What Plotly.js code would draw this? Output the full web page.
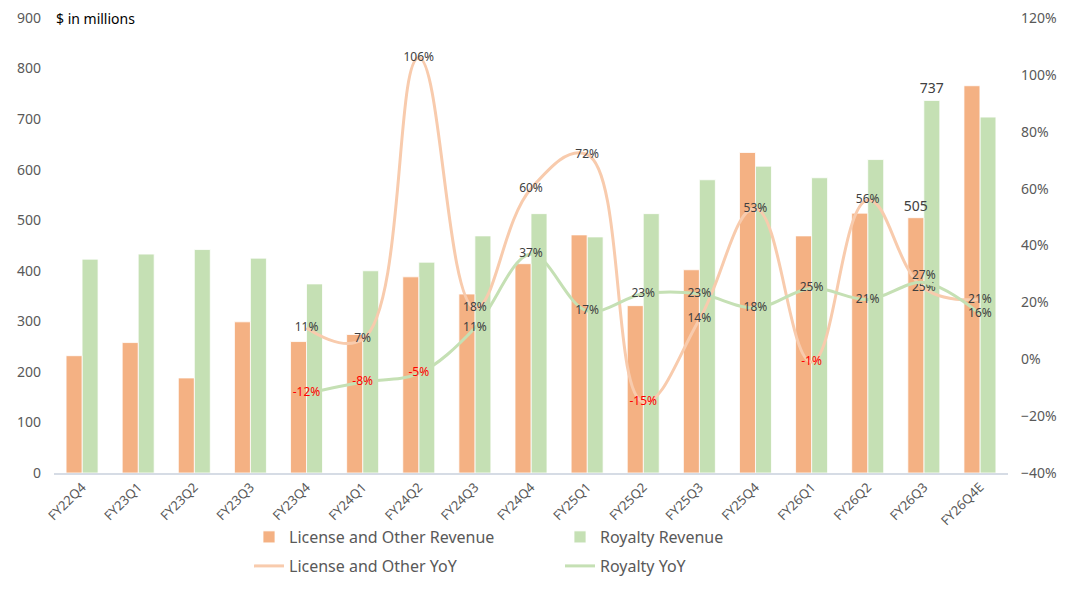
<!DOCTYPE html>
<html>
<head>
<meta charset="utf-8">
<script src="https://cdn.plot.ly/plotly-3.0.1.min.js"></script>
<style>html,body{margin:0;padding:0;background:#fff;}#chart{width:1080px;height:593px;}</style>
</head>
<body>
<div id="chart"></div>
<script>
const quarters = ["FY22Q4","FY23Q1","FY23Q2","FY23Q3","FY23Q4","FY24Q1","FY24Q2","FY24Q3","FY24Q4","FY25Q1","FY25Q2","FY25Q3","FY25Q4","FY26Q1","FY26Q2","FY26Q3","FY26Q4E"];
const licenseRevenue = [232, 258, 188, 299, 260, 274, 388, 354, 414, 471, 331, 402, 634, 469, 514, 505, 766];
const royaltyRevenue = [423, 433, 442, 425, 374, 400, 417, 469, 513, 467, 513, 580, 607, 584, 620, 737, 704];
const licenseYoY = [null, null, null, null, 11, 7, 106, 18, 60, 72, -15, 14, 53, -1, 56, 25, 21];
const royaltyYoY = [null, null, null, null, -12, -8, -5, 11, 37, 17, 23, 23, 18, 25, 21, 27, 16];
const licenseBarLabels = ["","","","","","","","","","","","","","","","505",""];
const royaltyBarLabels = ["","","","","","","","","","","","","","","","737",""];

const FONT = "'Noto Sans', 'Noto Sans CJK SC', sans-serif";
const pctText = a => a.map(v => v === null ? "" : v + "%");
const pctColor = a => a.map(v => (v !== null && v < 0) ? "#FF0000" : "#404040");
const BW = 0.285;
const royaltyPos = quarters.map((q, i) => i === 15 ? "top center" : "middle center");

// royalty bars drawn first so the license bar labels sit on top of them
const traces = [
  {type:"bar", name:"Royalty Revenue", x:quarters, y:royaltyRevenue, width:BW, offset:0,
   marker:{color:"#C5E0B4", line:{color:"#FFFFFF", width:0.8}},
   text:royaltyBarLabels, textposition:"outside", cliponaxis:false, constraintext:"none",
   textfont:{family:FONT, size:14, color:"#404040"}, legend:"legend", legendrank:2, hoverinfo:"x+y"},
  {type:"bar", name:"License and Other Revenue", x:quarters, y:licenseRevenue, width:BW, offset:-BW,
   marker:{color:"#F4B183", line:{color:"#FFFFFF", width:0.8}},
   text:licenseBarLabels, textposition:"outside", cliponaxis:false, constraintext:"none",
   textfont:{family:FONT, size:14, color:"#404040"}, legend:"legend", legendrank:1, hoverinfo:"x+y"},
  {type:"scatter", mode:"lines+text", name:"License and Other YoY", x:quarters, y:licenseYoY,
   yaxis:"y2", line:{color:"#F8CBAD", width:3, shape:"spline", smoothing:1.2},
   text:pctText(licenseYoY), textposition:"middle center", cliponaxis:false,
   textfont:{family:FONT, size:12, color:pctColor(licenseYoY)}, legend:"legend2", legendrank:1},
  {type:"scatter", mode:"lines+text", name:"Royalty YoY", x:quarters, y:royaltyYoY,
   yaxis:"y2", line:{color:"#C5E0B4", width:3, shape:"spline", smoothing:1.0},
   text:pctText(royaltyYoY), textposition:royaltyPos, cliponaxis:false,
   textfont:{family:FONT, size:12, color:pctColor(royaltyYoY)}, legend:"legend2", legendrank:2}
];

const layout = {
  width:1080, height:593,
  margin:{l:54, r:72, t:18, b:120},
  paper_bgcolor:"#FFFFFF", plot_bgcolor:"#FFFFFF",
  font:{family:FONT, color:"#595959"},
  barmode:"overlay",
  xaxis:{type:"category", range:[-0.5, quarters.length-0.5], autorange:false, automargin:false,
    tickangle:-45, tickfont:{size:13, color:"#595959"},
    showline:true, linecolor:"#D6DCE5", linewidth:1.5, showgrid:false, zeroline:false, ticks:""},
  yaxis:{range:[0,900], dtick:100, showgrid:false, zeroline:false, showline:false, automargin:false,
    tickfont:{size:14, color:"#595959"}, ticks:"", ticklabelstandoff:12},
  yaxis2:{overlaying:"y", side:"right", range:[-40,120], dtick:20, ticksuffix:"%", automargin:false,
    showgrid:false, zeroline:false, showline:false,
    tickfont:{size:14, color:"#595959"}, ticks:"", ticklabelstandoff:12},
  legend:{orientation:"h", xref:"container", yref:"container", x:249/1080, y:1-537/593,
    xanchor:"left", yanchor:"middle", entrywidthmode:"pixels", entrywidth:266,
    font:{size:16, color:"#595959", family:FONT}, bgcolor:"rgba(0,0,0,0)", traceorder:"normal"},
  legend2:{orientation:"h", xref:"container", yref:"container", x:249/1080, y:1-566/593,
    xanchor:"left", yanchor:"middle", entrywidthmode:"pixels", entrywidth:266,
    font:{size:16, color:"#595959", family:FONT}, bgcolor:"rgba(0,0,0,0)", traceorder:"normal"},
  annotations:[{text:"$ in millions", xref:"paper", yref:"paper", x:0, y:1,
    xanchor:"left", yanchor:"middle", showarrow:false,
    font:{family:FONT, size:14, color:"#000000"}}]
};

Plotly.newPlot("chart", traces, layout, {displayModeBar:false, staticPlot:true});
</script>
</body>
</html>
